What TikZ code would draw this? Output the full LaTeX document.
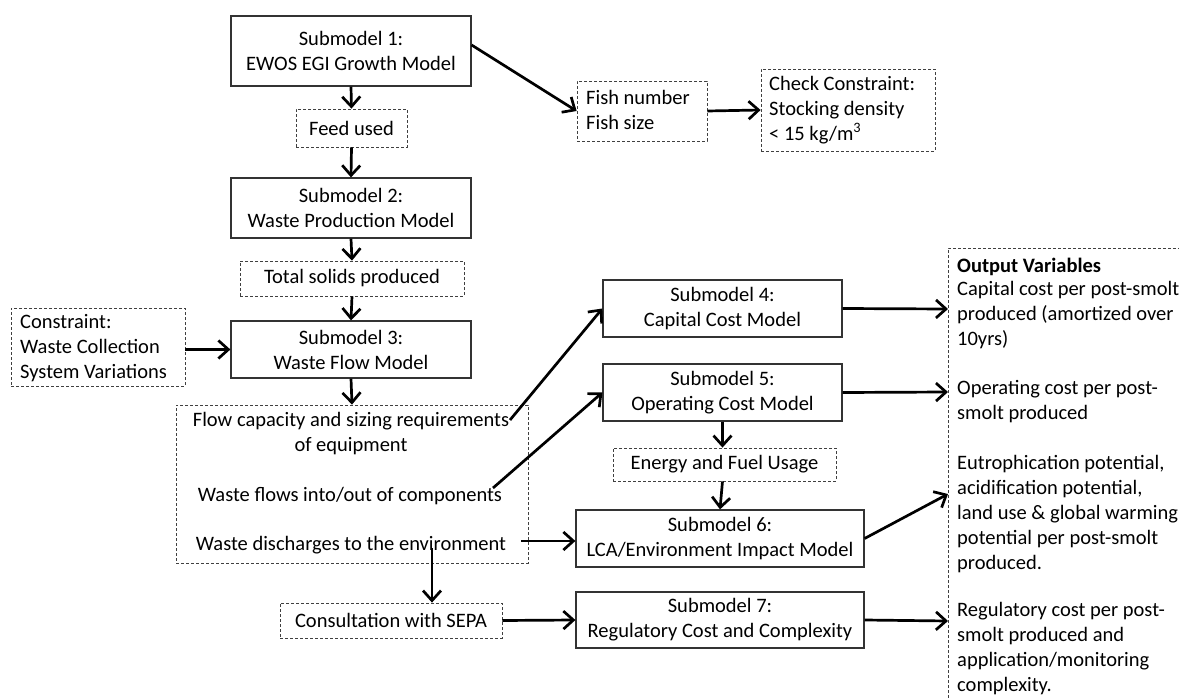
\documentclass[tikz,border=0pt]{standalone}
\usepackage{fontspec}
\setmainfont{Carlito}
\usetikzlibrary{arrows.meta}
\begin{document}
\begin{tikzpicture}[x=1pt,y=-1pt,
  every node/.style={font=\fontsize{20.5}{25}\selectfont, inner sep=0pt},
  sbox/.style={draw=black!80, line width=1.2pt, align=center},
  dbox/.style={draw=black!75, line width=0.8pt, dash pattern=on 3pt off 2pt},
  txt/.style={align=left},
  arr/.style={line width=2.7pt, -{Straight Barb[length=10pt,width=18pt]}}]
\useasboundingbox[fill=white] (0,0) rectangle (1179,698);

% left column
\node[sbox, minimum width=240pt, minimum height=70pt] (s1) at (351,51) {Submodel 1:\\EWOS EGI Growth Model};
\node[dbox, minimum width=111pt, minimum height=38pt] (feed) at (351.5,128) {Feed used};
\node[sbox, minimum width=240pt, minimum height=60pt] (s2) at (351,208) {Submodel 2:\\Waste Production Model};
\node[dbox, minimum width=224pt, minimum height=35pt] (tot) at (352,278.5) {Total solids produced};
\node[sbox, minimum width=240pt, minimum height=57pt] (s3) at (351,349.5) {Submodel 3:\\Waste Flow Model};
\node[dbox, minimum width=174pt, minimum height=78pt] (con) at (98,347) {};
\node[txt, anchor=west] (cont) at (20,348) {Constraint:\\Waste Collection\\System Variations};

% big dashed box
\node[dbox, minimum width=352pt, minimum height=158pt] (big) at (352,484) {};
\node[align=center] (flow) at (351,434) {Flow capacity and sizing requirements\\of equipment};
\node (wflow) at (350,496) {Waste flows into/out of components};
\node (disch) at (351,545) {Waste discharges to the environment};
\coordinate (fl) at (510,420);
\coordinate (wf) at (493,488);
\coordinate (dr) at (521,541);
\coordinate (dd) at (432,548);

\node[dbox, minimum width=222pt, minimum height=35pt] (cons) at (391,620.5) {Consultation with SEPA};

% top right
\node[dbox, minimum width=130pt, minimum height=60pt] (fish) at (642,111) {};
\node[txt, anchor=west] (fisht) at (586,110) {Fish number\\Fish size};
\node[dbox, minimum width=174pt, minimum height=82pt] (chk) at (848,110) {};
\node[txt, anchor=west] (chkt) at (769,110) {Check Constraint:\\Stocking density\\< 15 kg/m\textsuperscript{3}};

% middle column
\node[sbox, minimum width=239pt, minimum height=57pt] (s4) at (722.5,308.5) {Submodel 4:\\Capital Cost Model};
\node[sbox, minimum width=239pt, minimum height=57pt] (s5) at (722.5,392.5) {Submodel 5:\\Operating Cost Model};
\node[dbox, minimum width=223pt, minimum height=33pt] (en) at (724.5,464.5) {Energy and Fuel Usage};
\node[sbox, minimum width=288pt, minimum height=57pt] (s6) at (720,538.5) {Submodel 6:\\LCA/Environment Impact Model};
\node[sbox, minimum width=288pt, minimum height=56pt] (s7) at (720,620) {Submodel 7:\\Regulatory Cost and Complexity};

% output variables
\draw[dbox] (948,698) |- (1179,248);
\node[anchor=west, font=\fontsize{20.5}{25}\selectfont\bfseries] (ov) at (957,267) {Output Variables};
\node[anchor=west, txt] (o1t) at (957,315) {Capital cost per post-smolt\\produced (amortized over\\10yrs)};
\node[anchor=west, txt] (o2t) at (957,402) {Operating cost per post-\\smolt produced};
\node[anchor=west, txt] (o3t) at (957,514) {Eutrophication potential,\\acidification potential,\\land use \& global warming\\potential per post-smolt\\produced.};
\node[anchor=west, txt] (o4t) at (957,649) {Regulatory cost per post-\\smolt produced and\\application/monitoring\\complexity.};
\coordinate (o1) at (948,309);
\coordinate (o2) at (948,392);
\coordinate (o3) at (948,494);
\coordinate (o4) at (948,621);

% arrows
\draw[arr] (s1.south) -- (feed.north);
\draw[arr] (feed.south) -- (s2.north);
\draw[arr] (s2.south) -- (tot.north);
\draw[arr] (tot.south) -- (s3.north);
\draw[arr] (con.east |- s3.west) -- (s3.west);
\draw[arr] (s3.south) -- (big.north);
\draw[arr] ([yshift=6pt]s1.east) -- (fish.west);
\draw[arr] (fish.east) -- (chk.west);
\draw[arr] (fl) -- (s4.west);
\draw[arr] (wf) -- (s5.west);
\draw[arr] (dr) -- (dr -| s6.west);
\draw[arr] (dd) -- (dd |- cons.north);
\draw[arr] (cons.east) -- (s7.west);
\draw[arr] (s5.south) -- (s5.south |- en.north);
\draw[arr] (s5.south |- en.south) -- (s6.north);
\draw[arr] (s4.east) -- (o1);
\draw[arr] (s5.east) -- (o2);
\draw[arr] (s6.east) -- (o3);
\draw[arr] (s7.east) -- (o4);
\end{tikzpicture}
\end{document}
